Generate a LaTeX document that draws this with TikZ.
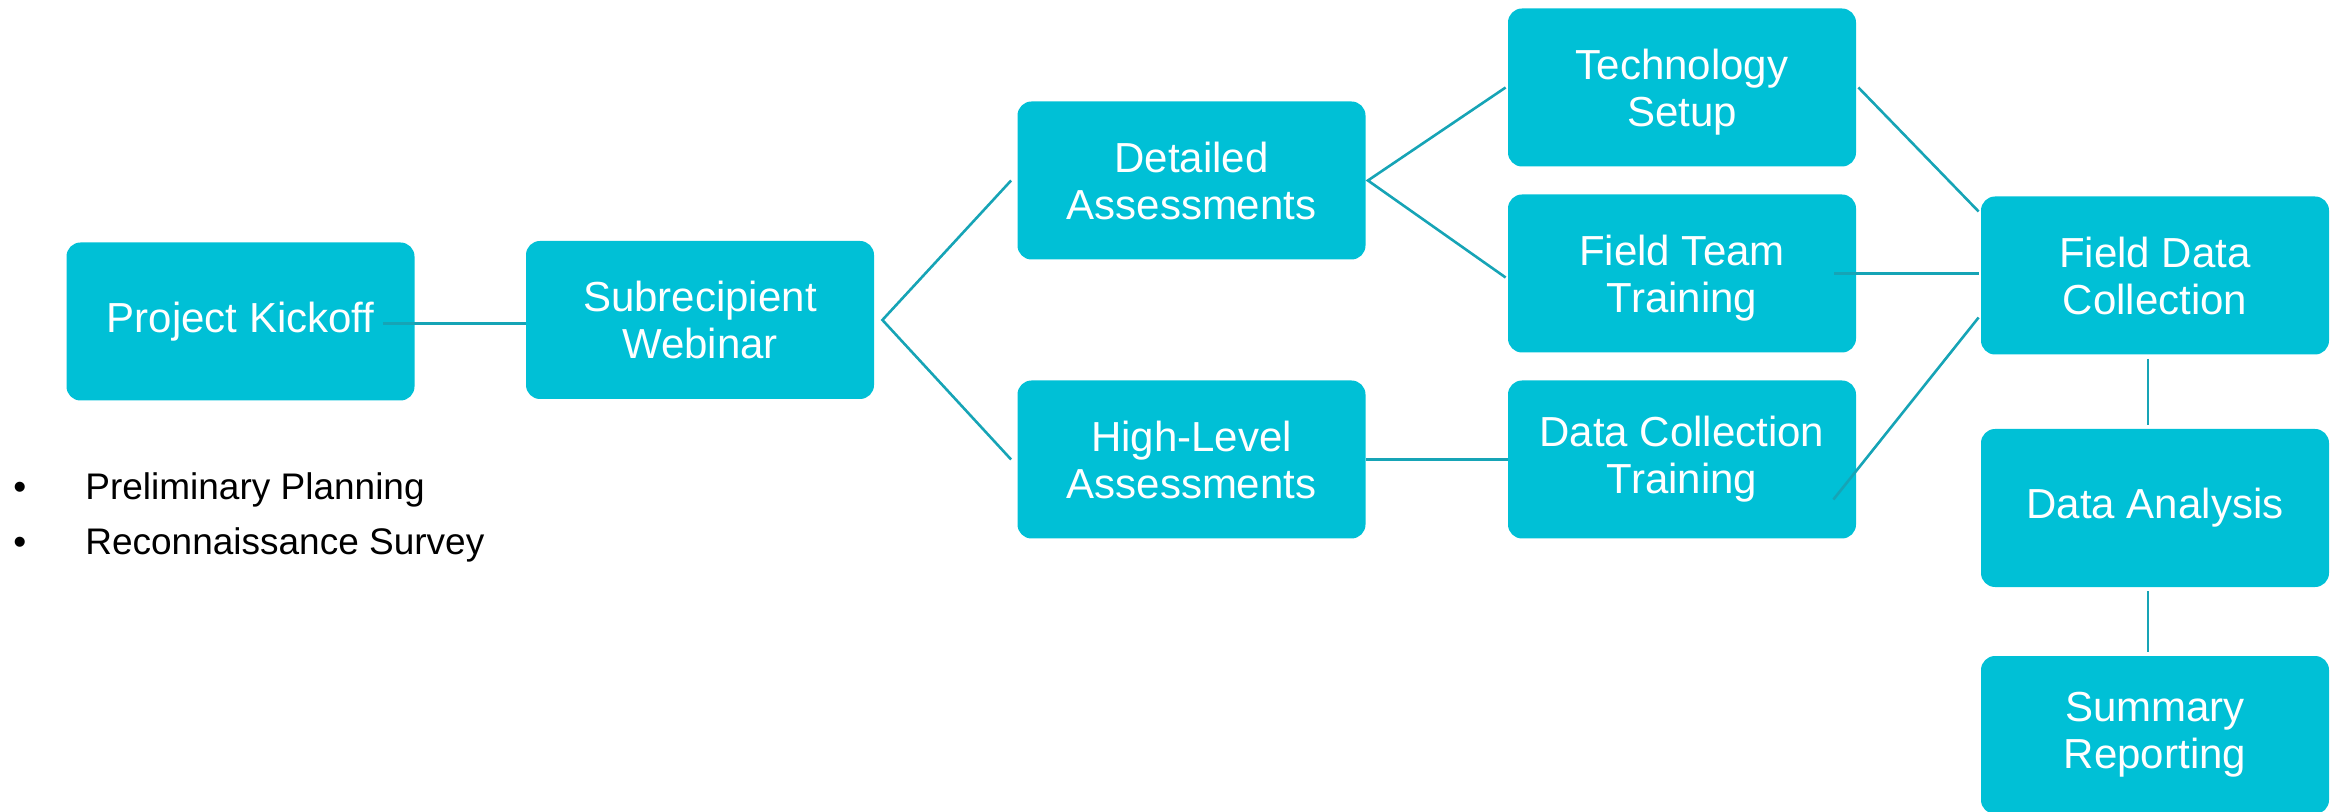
\documentclass[tikz,border=0pt]{standalone}
\usepackage{fontspec}
\setmainfont{Liberation Sans}
\usepackage{xcolor}
\definecolor{boxcyan}{RGB}{0,192,214}
\definecolor{linkteal}{RGB}{22,164,182}
\usetikzlibrary{positioning}
\tikzset{every picture/.style={baseline={([yshift=-.7ex]current bounding box.center)}}}
\tikzset{
  stage/.style={fill=boxcyan,draw=none,rounded corners=7pt,minimum width=174pt,minimum height=79pt,
    text=white,align=center,font=\fontsize{21}{23.5}\selectfont,inner sep=2pt},
  link/.style={draw=linkteal,line width=1.3pt}
}
\begin{document}
\begin{tikzpicture}[x=0.5pt,y=-0.5pt]
\useasboundingbox (0,0) rectangle (2341,812);
\node [stage](kick) at (240.5,321.5){Project Kickoff};
\node [stage](web) at (700,320){Subrecipient\\Webinar};
\node [stage](det) at (1191.5,180.5){Detailed\\Assessments};
\node [stage](high) at (1191.5,459.5){High-Level\\Assessments};
\node [stage](tech) at (1682,87.5){\raisebox{-3pt}[\height][\depth]{\begin{tabular}{@{}c@{}}Technology\\Setup\end{tabular}}};
\node [stage](ftt) at (1682,273.5){\raisebox{-3pt}[\height][\depth]{\begin{tabular}{@{}c@{}}Field Team\\Training\end{tabular}}};
\node [stage](dct) at (1682,459.5){Data Collection\\Training};
\node [stage](fdc) at (2155,275.5){Field Data\\Collection};
\node [stage](ana) at (2155,508){Data Analysis};
\node [stage](sum) at (2155,735){Summary\\Reporting};
\node [anchor=west,align=left,inner sep=0pt,font=\fontsize{18.5}{27.5}\selectfont](notes) at (13,517)
  {\makebox[36pt][l]{•}Preliminary Planning\\\makebox[36pt][l]{•}Reconnaissance Survey};
% connectors
\draw [link]([xshift=-16pt,yshift=-1pt]kick.east) -- ([yshift=-1pt]kick.east -| web.west);
\draw [link]([xshift=-3pt]det.west) -- ([xshift=4pt]web.east) -- ([xshift=-3pt]high.west);
\draw [link]([xshift=-1pt]tech.west) -- ([xshift=1pt]det.east) -- ([xshift=-1pt,yshift=-2pt]ftt.west);
\draw [link](high.east) -- (dct.west);
\draw [link]([xshift=1pt]tech.east) -- ([xshift=-1pt,yshift=32pt]fdc.west);
\draw [link]([xshift=-11pt]ftt.east) -- ([xshift=-1pt]ftt.east -| fdc.west);
\draw [link]([xshift=-11.5pt,yshift=-20pt]dct.east) -- ([xshift=-1pt,yshift=-21pt]fdc.west);
\draw [link]([xshift=-3.5pt,yshift=-2pt]fdc.south) -- ([xshift=-3.5pt,yshift=2pt]ana.north);
\draw [link]([xshift=-3.5pt,yshift=-2pt]ana.south) -- ([xshift=-3.5pt,yshift=2pt]sum.north);
\end{tikzpicture}
\end{document}
